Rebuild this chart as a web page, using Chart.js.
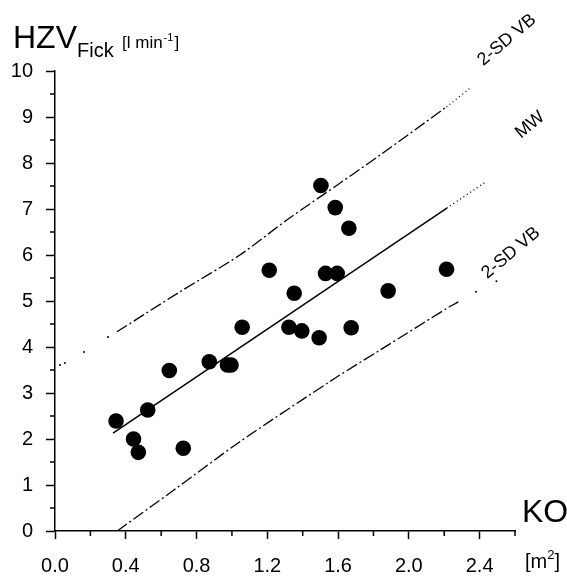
<!DOCTYPE html>
<html>
<head>
<meta charset="utf-8">
<script src="https://cdn.jsdelivr.net/npm/chart.js@4/dist/chart.umd.min.js"></script>
<style>
  html, body { margin: 0; padding: 0; background: #fff; }
  #wrap { width: 567px; height: 576px; }
</style>
</head>
<body>
<div id="wrap"><canvas id="hzv-chart" width="567" height="576"></canvas></div>
<script>
// Messwerte: KO [m²] gegen HZV nach Fick [l/min]
const koValues  = [0.345, 0.524, 0.444, 0.471, 0.725, 0.646, 0.872, 0.975, 0.995, 1.058,
                   1.211, 1.352, 1.322, 1.395, 1.493, 1.529, 1.595, 1.674, 1.503, 1.584,
                   1.661, 1.883, 2.213];
const hzvValues = [2.39, 2.63, 2.00, 1.71, 1.80, 3.49, 3.68, 3.61, 3.61, 4.43,
                   5.67, 5.17, 4.43, 4.35, 4.20, 5.60, 5.60, 4.42, 7.51, 7.03,
                   6.58, 5.22, 5.69];

// Mittelwertgerade (MW)
const mwKo       = [0.328, 2.215];
const mwHzv      = [2.13, 7.02];
const mwExtKo    = [2.215, 2.435];
const mwExtHzv   = [7.02, 7.59];

// obere 2-SD Vertrauensgrenze
const upperKo      = [0.35, 0.706, 1.045, 1.31, 1.61, 1.84, 2.213];
const upperHzv     = [4.33, 5.20, 6.00, 6.76, 7.56, 8.18, 9.22];
const upperExtKo   = [2.213, 2.354];
const upperExtHzv  = [9.22, 9.65];
const upperDotKo   = [0.028, 0.056, 0.164, 0.30];
const upperDotHzv  = [3.61, 3.65, 3.89, 4.22];

// untere 2-SD Vertrauensgrenze
const lowerKo      = [0.352, 0.668, 1.045, 1.582, 1.836, 2.232, 2.28];
const lowerHzv     = [0.00, 0.88, 1.94, 3.32, 3.93, 4.88, 4.98];
const lowerDotKo   = [2.38, 2.495];
const lowerDotHzv  = [5.20, 5.43];

const xTicks = [0.0, 0.4, 0.8, 1.2, 1.6, 2.0, 2.4];
const yTicks = [0, 1, 2, 3, 4, 5, 6, 7, 8, 9, 10];

const FONT = "'Liberation Sans', Arial, sans-serif";

function pts(xs, ys) {
    return xs.map((x, i) => ({ x: x, y: ys[i] }));
}

function isMajor(value, list) {
    return list.some(t => Math.abs(t - value) < 1e-6);
}

function lineSet(xs, ys, dash, width) {
    return {
        data: pts(xs, ys),
        showLine: true,
        borderColor: '#000',
        borderWidth: width,
        borderDash: dash,
        pointRadius: 0,
        tension: 0.3,
        fill: false
    };
}

function dotSet(xs, ys) {
    return {
        data: pts(xs, ys),
        showLine: false,
        pointRadius: 1,
        pointBorderWidth: 0,
        backgroundColor: '#000'
    };
}

// kurze Zwischenstriche an den Achsen
const minorTicks = {
    id: 'minorTicks',
    afterDraw(chart) {
        const ctx = chart.ctx;
        ctx.save();
        ctx.strokeStyle = '#000';
        ctx.lineWidth = 1.5;
        const xs = chart.scales.x, ys = chart.scales.y;
        xs.ticks.forEach(t => {
            if (isMajor(t.value, xTicks)) return;
            const px = xs.getPixelForValue(t.value);
            ctx.beginPath();
            ctx.moveTo(px, xs.top);
            ctx.lineTo(px, xs.top + 5);
            ctx.stroke();
        });
        ys.ticks.forEach(t => {
            if (isMajor(t.value, yTicks)) return;
            const py = ys.getPixelForValue(t.value);
            ctx.beginPath();
            ctx.moveTo(ys.right, py);
            ctx.lineTo(ys.right - 5, py);
            ctx.stroke();
        });
        ctx.restore();
    }
};

// Achsentitel und Beschriftung der Grenzlinien
const labels = {
    id: 'labels',
    afterDraw(chart) {
        const ctx = chart.ctx;
        ctx.save();
        ctx.fillStyle = '#000';
        ctx.textBaseline = 'alphabetic';
        ctx.textAlign = 'left';

        ctx.font = '32px ' + FONT;
        ctx.fillText('HZV', 13, 48);
        ctx.font = '20px ' + FONT;
        ctx.fillText('Fick', 77, 57);
        ctx.font = '17px ' + FONT;
        ctx.fillText('[l min', 122, 48);
        let w = ctx.measureText('[l min').width;
        ctx.font = '11px ' + FONT;
        ctx.fillText('-1', 122 + w + 1, 41);
        let w2 = ctx.measureText('-1').width;
        ctx.font = '17px ' + FONT;
        ctx.fillText(']', 122 + w + w2 + 2, 48);

        ctx.font = '32px ' + FONT;
        ctx.fillText('KO', 522, 522);
        ctx.font = '20px ' + FONT;
        ctx.fillText('[m', 525, 568);
        w = ctx.measureText('[m').width;
        ctx.font = '13px ' + FONT;
        ctx.fillText('2', 525 + w, 559);
        w2 = ctx.measureText('2').width;
        ctx.font = '20px ' + FONT;
        ctx.fillText(']', 525 + w + w2, 568);

        ctx.font = '18px ' + FONT;
        ctx.textAlign = 'center';
        ctx.textBaseline = 'middle';
        [['2-SD VB', 507, 40], ['MW', 530, 125], ['2-SD VB', 511, 253]].forEach(l => {
            ctx.save();
            ctx.translate(l[1], l[2]);
            ctx.rotate(-40 * Math.PI / 180);
            ctx.fillText(l[0], 0, 0);
            ctx.restore();
        });
        ctx.restore();
    }
};

const ctx = document.getElementById('hzv-chart').getContext('2d');
new Chart(ctx, {
    type: 'scatter',
    data: {
        datasets: [
            {
                data: pts(koValues, hzvValues),
                pointRadius: 7.8,
                pointBorderWidth: 0,
                backgroundColor: '#000'
            },
            lineSet(mwKo, mwHzv, [], 1.5),
            lineSet(mwExtKo, mwExtHzv, [1, 3], 1.3),
            lineSet(upperKo, upperHzv, [12, 3, 2, 3], 1.3),
            lineSet(upperExtKo, upperExtHzv, [1, 3], 1.3),
            dotSet(upperDotKo, upperDotHzv),
            lineSet(lowerKo, lowerHzv, [12, 3, 2, 3], 1.3),
            dotSet(lowerDotKo, lowerDotHzv)
        ]
    },
    options: {
        responsive: false,
        animation: false,
        layout: { padding: { top: 71, right: 52, left: 0, bottom: 0 } },
        plugins: {
            legend: { display: false },
            tooltip: { enabled: false }
        },
        scales: {
            x: {
                type: 'linear',
                min: 0,
                max: 2.6,
                border: { color: '#000', width: 1.5 },
                grid: {
                    drawOnChartArea: false,
                    tickLength: 8,
                    tickWidth: 1.5,
                    tickColor: c => isMajor(c.tick.value, xTicks) ? '#000' : 'rgba(0,0,0,0)'
                },
                ticks: {
                    stepSize: 0.2,
                    color: '#000',
                    padding: 15,
                    maxRotation: 0,
                    autoSkip: false,
                    font: { family: FONT, size: 20 },
                    callback: v => isMajor(v, xTicks) ? v.toFixed(1) : ''
                },
                afterFit: s => { s.height = 45; }
            },
            y: {
                type: 'linear',
                min: 0,
                max: 10,
                border: { color: '#000', width: 1.5 },
                grid: {
                    drawOnChartArea: false,
                    tickLength: 9,
                    tickWidth: 1.5,
                    tickColor: c => isMajor(c.tick.value, yTicks) ? '#000' : 'rgba(0,0,0,0)'
                },
                ticks: {
                    stepSize: 0.5,
                    color: '#000',
                    padding: 13,
                    autoSkip: false,
                    font: { family: FONT, size: 20 },
                    callback: v => isMajor(v, yTicks) ? String(v) : ''
                },
                afterFit: s => { s.width = 55; }
            }
        }
    },
    plugins: [minorTicks, labels]
});
</script>
</body>
</html>
